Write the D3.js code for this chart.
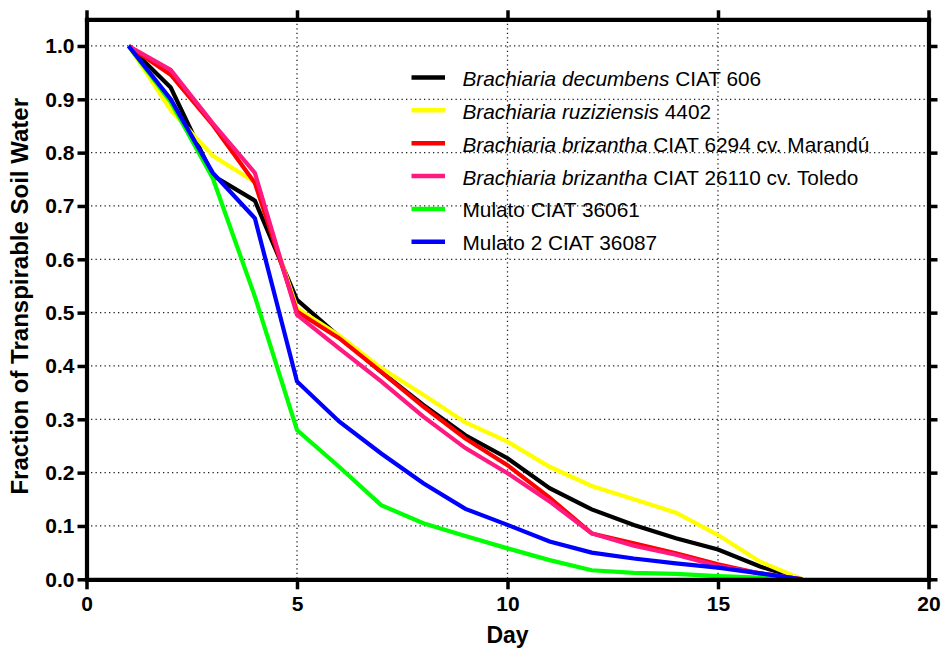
<!DOCTYPE html>
<html>
<head>
<meta charset="utf-8">
<script src="https://cdn.jsdelivr.net/npm/d3@7"></script>
<style>
  html, body { margin: 0; padding: 0; background: #fff; }
  svg { display: block; font-family: "Liberation Sans", Arial, sans-serif; }
</style>
</head>
<body>
<svg id="chart" width="942" height="654"></svg>
<script>
// ---- data ----
const days = [1,2,3,4,5,6,7,8,9,10,11,12,13,14,15,16,17];
const decumbens  = [1.0,0.922,0.757,0.71,0.524,0.455,0.389,0.327,0.27,0.227,0.171,0.131,0.102,0.077,0.056,0.024,0.0];
const ruziziensis= [1.0,0.88,0.794,0.745,0.508,0.457,0.396,0.346,0.294,0.258,0.211,0.175,0.15,0.125,0.083,0.033,0.0];
const marandu    = [1.0,0.946,0.852,0.743,0.502,0.452,0.389,0.324,0.264,0.214,0.153,0.086,0.0675,0.049,0.028,0.011,0.0];
const toledo     = [1.0,0.955,0.855,0.762,0.496,0.433,0.371,0.305,0.246,0.199,0.146,0.086,0.063,0.046,0.025,0.011,0.0];
const mulato     = [1.0,0.895,0.752,0.53,0.28,0.211,0.139,0.105,0.081,0.058,0.036,0.017,0.012,0.01,0.006,0.003,0.0];
const mulato2    = [1.0,0.90,0.762,0.677,0.371,0.296,0.236,0.18,0.132,0.102,0.071,0.05,0.039,0.03,0.022,0.011,0.0];

const seriesNames = [
  [{t:"Brachiaria decumbens", i:true}, {t:" CIAT 606", i:false}],
  [{t:"Brachiaria ruziziensis", i:true}, {t:" 4402", i:false}],
  [{t:"Brachiaria brizantha", i:true}, {t:" CIAT 6294 cv. Marandú", i:false}],
  [{t:"Brachiaria brizantha", i:true}, {t:" CIAT 26110 cv. Toledo", i:false}],
  [{t:"Mulato CIAT 36061", i:false}],
  [{t:"Mulato 2 CIAT 36087", i:false}]
];
const seriesValues = [decumbens, ruziziensis, marandu, toledo, mulato, mulato2];
const seriesColors = ["#000000", "#ffff00", "#ff0000", "#ff1a80", "#00ff00", "#0000ff"];

const xTicks = [0,5,10,15,20];
const yTicks = [0,0.1,0.2,0.3,0.4,0.5,0.6,0.7,0.8,0.9,1.0];
const xGrid = [5,10,15];
const yGrid = [0.1,0.2,0.3,0.4,0.5,0.6,0.7,0.8,0.9,1.0];

// ---- layout ----
const L = 86.5, R = 928.5, T = 19.3, B = 579.3;
const svg = d3.select("#chart");
const x = d3.scaleLinear().domain([0,20]).range([L,R]);
const y = d3.scaleLinear().domain([0,1.05]).range([B,T]);

// grid
const grid = svg.append("g").attr("stroke","#222").attr("stroke-width",1.3)
  .attr("stroke-dasharray","1.3,3.2").attr("fill","none");
grid.selectAll("line.h").data(yGrid).join("line").attr("class","h")
  .attr("x1",L).attr("x2",R).attr("y1",d=>y(d)).attr("y2",d=>y(d));
grid.selectAll("line.v").data(xGrid).join("line").attr("class","v")
  .attr("x1",d=>x(d)).attr("x2",d=>x(d)).attr("y1",T).attr("y2",B);

// series
const line = d3.line().x((d,i)=>x(days[i])).y(d=>y(d));
svg.append("g").selectAll("path").data(seriesValues).join("path")
  .attr("d", d=>line(d))
  .attr("fill","none")
  .attr("stroke",(d,i)=>seriesColors[i])
  .attr("stroke-width",4.2)
  .attr("stroke-linejoin","miter")
  .attr("stroke-linecap","butt");

// axes
function styleAxis(g){
  g.select(".domain").attr("stroke","#000").attr("stroke-width",4.2);
  g.selectAll(".tick line").attr("stroke","#000").attr("stroke-width",3.5);
  g.selectAll(".tick text").attr("fill","#000")
    .style("font-size","21px").style("font-weight","bold")
    .style("font-family",'"Liberation Sans", Arial, sans-serif');
}
const fmtY = d3.format(".1f");
svg.append("g").attr("transform",`translate(0,${B})`)
  .call(d3.axisBottom(x).tickValues(xTicks).tickSize(10).tickSizeOuter(0).tickPadding(6.5))
  .call(styleAxis);
svg.append("g").attr("transform",`translate(0,${T})`)
  .call(d3.axisTop(x).tickValues(xTicks).tickSize(9).tickSizeOuter(0).tickFormat(""))
  .call(styleAxis);
svg.append("g").attr("transform",`translate(${L},0)`)
  .call(d3.axisLeft(y).tickValues(yTicks).tickSize(9).tickSizeOuter(0).tickPadding(3).tickFormat(fmtY))
  .call(styleAxis);
svg.append("g").attr("transform",`translate(${R},0)`)
  .call(d3.axisRight(y).tickValues(yTicks).tickSize(9).tickSizeOuter(0).tickFormat(""))
  .call(styleAxis);
svg.selectAll(".domain").attr("stroke-linecap","square");

// titles
svg.append("text").attr("x",(L+R)/2).attr("y",643).attr("text-anchor","middle")
  .style("font-size","23px").style("font-weight","bold").text("Day");
svg.append("text").attr("transform",`translate(28,${(T+B)/2 - 3}) rotate(-90)`)
  .attr("text-anchor","middle")
  .style("font-size","24px").style("font-weight","bold")
  .text("Fraction of Transpirable Soil Water");

// legend
const lg = svg.append("g");
seriesNames.forEach((parts,i)=>{
  const ly = 77.5 + i*32.85;
  lg.append("line").attr("x1",411.5).attr("x2",445).attr("y1",ly).attr("y2",ly)
    .attr("stroke",seriesColors[i]).attr("stroke-width",4.5);
  const t = lg.append("text").attr("x",462.5).attr("y",ly+8.5)
    .style("font-size","20.8px").attr("fill","#000");
  parts.forEach(p=>{
    t.append("tspan").style("font-style",p.i?"italic":"normal").text(p.t);
  });
});
</script>
</body>
</html>
